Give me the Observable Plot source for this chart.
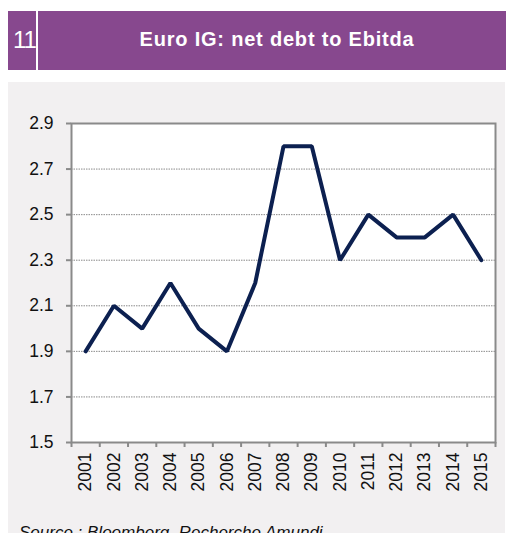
<!DOCTYPE html>
<html>
<head>
<meta charset="utf-8">
<script src="https://cdn.jsdelivr.net/npm/d3@7"></script>
<script src="https://cdn.jsdelivr.net/npm/@observablehq/plot@0.6"></script>
<style>
  html, body { margin: 0; padding: 0; background: #fff; }
  body { width: 506px; height: 533px; overflow: hidden; position: relative; font-family: "Liberation Sans", Arial, sans-serif; }
  #band { position: absolute; left: 8px; top: 11px; width: 498px; height: 59px; background: #87488e; }
  #num { position: absolute; left: 5px; top: 15px; color: #fff; font-family: "Liberation Sans Narrow", "Liberation Sans", sans-serif; font-size: 24px; letter-spacing: -1px; }
  #div { position: absolute; left: 28px; top: 0; width: 2px; height: 59px; background: #fff; }
  #title { position: absolute; left: 40px; right: 0; top: 17px; text-align: center; color: #fff; font-size: 20px; font-weight: bold; letter-spacing: 0.8px; }
  #panel { position: absolute; left: 8px; top: 82px; width: 497px; height: 451px; background: #f2f0f1; }
  #panel svg { position: absolute; left: 0; top: 0; background: transparent; }
  #source { position: absolute; left: 11px; top: 441px; font-size: 17px; font-style: italic; color: #111; white-space: nowrap; }
</style>
</head>
<body>
<div id="band"><div id="num">11</div><div id="div"></div><div id="title">Euro IG: net debt to Ebitda</div></div>
<div id="panel"><div id="chart"></div><div id="source">Source : Bloomberg, Recherche Amundi</div></div>
<script>
const years = [2001, 2002, 2003, 2004, 2005, 2006, 2007, 2008, 2009, 2010, 2011, 2012, 2013, 2014, 2015];
const values = [1.9, 2.1, 2.0, 2.2, 2.0, 1.9, 2.2, 2.8, 2.8, 2.3, 2.5, 2.4, 2.4, 2.5, 2.3];
const yTicks = [1.5, 1.7, 1.9, 2.1, 2.3, 2.5, 2.7, 2.9];
const gridTicks = [1.7, 1.9, 2.1, 2.3, 2.5, 2.7];

const data = years.map((y, i) => ({year: y, value: values[i]}));
const boundaries = [years[0] - 0.5, ...years.map(y => y + 0.5)];

const chart = Plot.plot({
  width: 497,
  height: 451,
  marginLeft: 63,
  marginTop: 41,
  marginRight: 10,
  marginBottom: 91,
  style: {background: "transparent", fontFamily: "Liberation Sans, Arial, sans-serif", color: "#111"},
  x: {domain: [years[0] - 0.5, years[years.length - 1] + 0.5]},
  y: {domain: [1.5, 2.9]},
  marks: [
    Plot.frame({fill: "white", stroke: "none"}),
    Plot.ruleY(gridTicks, {stroke: "#8a8a8a", strokeWidth: 1, strokeDasharray: "1.5,1"}),
    Plot.frame({stroke: "#8a8a8a", strokeWidth: 2}),
    Plot.axisY(yTicks, {tickSize: 5, tickPadding: 13, fontSize: 17.5, stroke: "#8a8a8a", strokeWidth: 2, tickFormat: d3.format(".1f"), label: null}),
    Plot.axisX(boundaries, {tickSize: 5, tickFormat: () => "", stroke: "#8a8a8a", strokeWidth: 2, label: null}),
    Plot.axisX(years, {tickSize: 0, tickPadding: 10, tickRotate: -90, fontSize: 17.5, tickFormat: d => String(d), label: null}),
    Plot.line(data, {x: "year", y: "value", stroke: "#0c2050", strokeWidth: 4, strokeLinejoin: "miter"})
  ]
});
document.getElementById("chart").appendChild(chart);
</script>
</body>
</html>
